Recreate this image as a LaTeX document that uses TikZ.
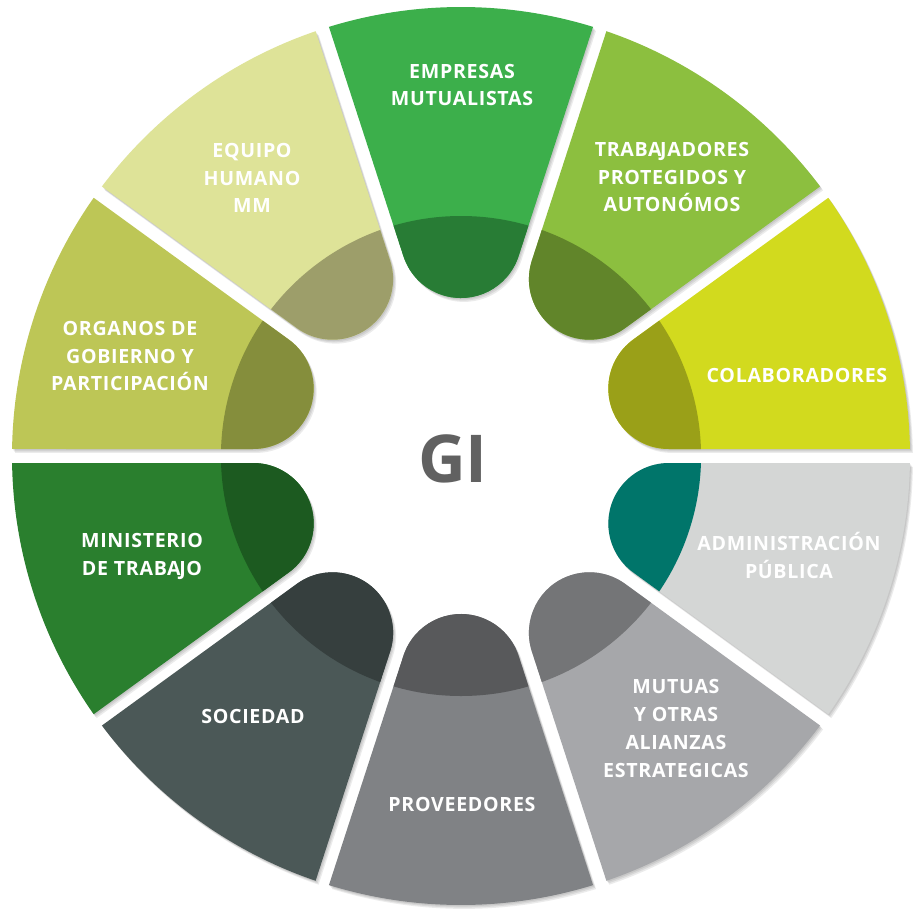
\documentclass[tikz,border=0pt]{standalone}
\usepackage{fontspec}
\setmainfont{Open Sans}
\newfontfamily\labfont{Open Sans}[LetterSpace=3.5]
\newfontfamily\gifont{Open Sans}
\definecolor{empL}{HTML}{3CAF4B}\definecolor{empD}{HTML}{287C35}
\definecolor{traL}{HTML}{8CBF3F}\definecolor{traD}{HTML}{61852A}
\definecolor{colL}{HTML}{D2DA1E}\definecolor{colD}{HTML}{9AA018}
\definecolor{admL}{HTML}{D4D6D5}\definecolor{admD}{HTML}{00756A}
\definecolor{mutL}{HTML}{A6A7AA}\definecolor{mutD}{HTML}{747577}
\definecolor{proL}{HTML}{808285}\definecolor{proD}{HTML}{58595B}
\definecolor{socL}{HTML}{4B5857}\definecolor{socD}{HTML}{363F3E}
\definecolor{minL}{HTML}{2A7F2E}\definecolor{minD}{HTML}{1C5A20}
\definecolor{orgL}{HTML}{BDC656}\definecolor{orgD}{HTML}{858E3C}
\definecolor{equL}{HTML}{DEE398}\definecolor{equD}{HTML}{9D9E6A}
\definecolor{giC}{HTML}{616161}
\newcommand\segpath{(17.107:449pt) arc[start angle=17.107,end angle=-17.107,radius=449pt] -- (199.83pt,-57.57pt) arc[start angle=252,end angle=108,radius=60.53pt] -- cycle}
\newcommand\segshadow[1]{%
  \foreach \d in {1,2,3}{%
    \begin{scope}[shift={(461+\d,-456-1.3*\d)},rotate=#1]
      \fill[black,opacity=0.08] \segpath;
    \end{scope}}}
\newcommand\wheelseg[3]{%
  \begin{scope}[shift={(461,-456)},rotate=#1]
    \fill[#2] \segpath;
    \begin{scope}
      \clip \segpath;
      \fill[#3] (0,0) circle[radius=240pt];
    \end{scope}
  \end{scope}}
\tikzset{
  lab/.style={text=white, align=center, inner sep=0pt,
    font=\labfont\bfseries\fontsize{19.6}{27.8}\selectfont,
    execute at begin node=\rule{0pt}{19.5pt},
    execute at end node=\rule[-6pt]{0pt}{6pt}},
}
\begin{document}
\begin{tikzpicture}[x=1pt,y=1pt]
\useasboundingbox (0,0) rectangle (916,-910);
\fill[white] (0,0) rectangle (916,-910);
\foreach \a in {90,54,18,-18,-54,-90,-126,-162,162,126}{\segshadow{\a}}
\wheelseg{90}{empL}{empD}
\wheelseg{54}{traL}{traD}
\wheelseg{18}{colL}{colD}
\wheelseg{-18}{admL}{admD}
\wheelseg{-54}{mutL}{mutD}
\wheelseg{-90}{proL}{proD}
\wheelseg{-126}{socL}{socD}
\wheelseg{-162}{minL}{minD}
\wheelseg{162}{orgL}{orgD}
\wheelseg{126}{equL}{equD}
\node[lab] (emp) at (462,-88) {EMPRESAS\\MUTUALISTAS};
\node[lab] (tra) at (672,-180) {TRABA\kern-1.5pt JADORES\\PROTEGIDOS Y\\AUTONÓMOS};
\node[lab] (col) at (797,-376) {COLABORADORES};
\node[lab] (adm) at (789,-558) {ADMINISTRACIÓN\\PÚBLICA};
\node[lab] (mut) at (676,-731.5) {MUTUAS\\Y OTRAS\\ALIANZAS\\ESTRATEGICAS};
\node[lab] (pro) at (462,-805) {PROVEEDORES};
\node[lab] (soc) at (253,-717) {SOCIEDAD};
\node[lab] (min) at (142,-557) {MINISTERIO\\DE TRABA\kern-1.5pt JO};
\node[lab] (org) at (130,-359) {ORGANOS DE\\GOBIERNO Y\\PARTICIPACIÓN};
\node[lab] (equ) at (252,-181) {EQUIPO\\HUMANO\\MM};
\node[anchor=base, inner sep=0pt, text=giC, font=\gifont\bfseries\fontsize{66}{70}\selectfont] (gi) at (453,-482) {GI};
\end{tikzpicture}
\end{document}
